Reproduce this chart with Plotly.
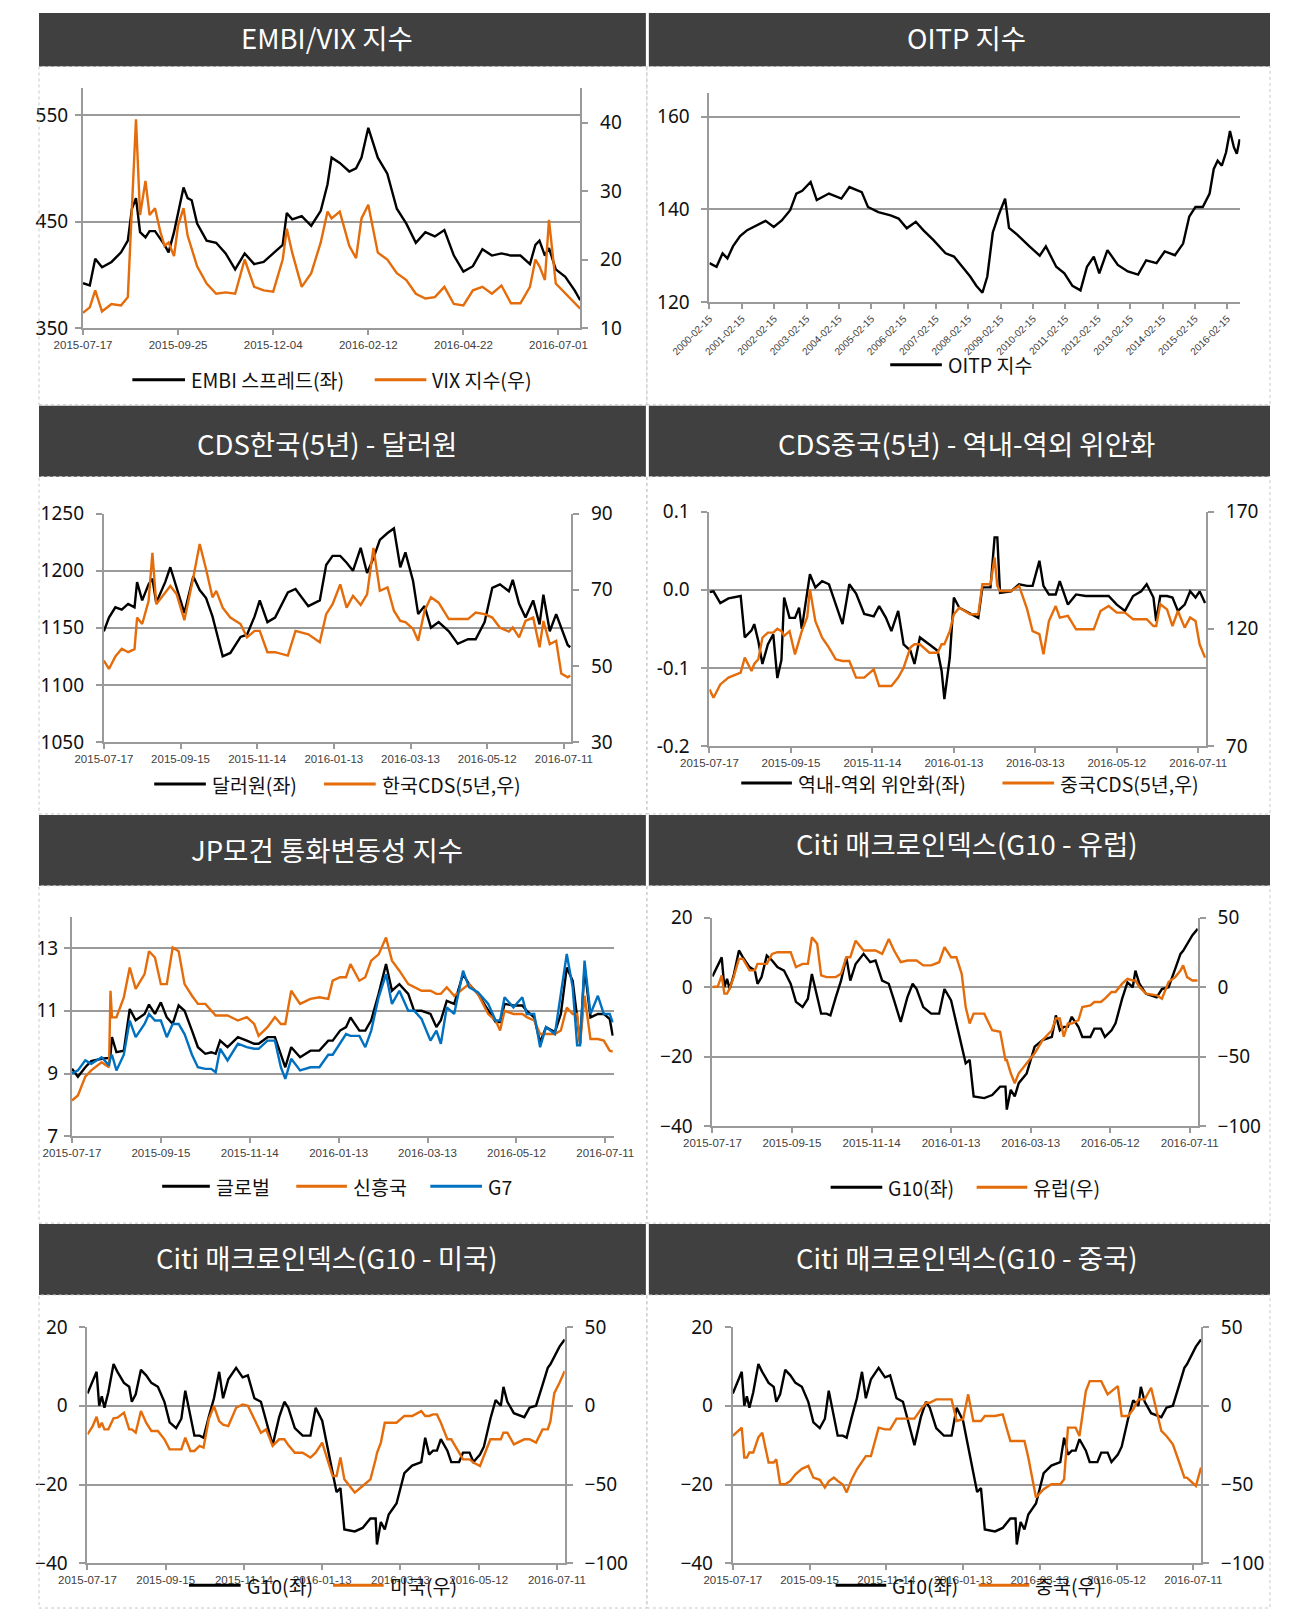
import pandas as pd
import plotly.graph_objects as go

W, H = 1291, 1621
BASE = pd.Timestamp('2015-07-17')

# ---------------- data ----------------
# EMBI / VIX (day offsets from 2015-07-17)
embi_days = [0, 5, 9, 14, 21, 28, 33, 36, 39, 42, 46, 49, 53, 57, 60, 63, 67, 70, 74, 77,
             80, 84, 91, 98, 105, 112, 119, 126, 133, 140, 147, 150, 154, 161, 168, 175, 180, 183, 189, 196,
             201, 205, 210, 217, 224, 231, 238, 245, 252, 259, 266, 273, 280, 287, 294, 301, 308, 315, 322, 329,
             333, 336, 340, 343, 348, 355, 362, 366]
embi = [392, 390, 415, 407, 412, 421, 432, 462, 472, 440, 435, 441, 441, 434, 428, 421, 440, 458, 482, 472,
        470, 448, 432, 430, 420, 405, 420, 410, 412, 420, 428, 458, 452, 455, 446, 460, 485, 510, 505, 497,
        500, 510, 538, 510, 495, 462, 448, 430, 440, 436, 442, 418, 403, 408, 424, 418, 420, 418, 418, 410,
        428, 432, 418, 425, 405, 398, 385, 376]
vix = [12.2, 13.0, 15.5, 12.4, 13.5, 13.3, 14.5, 28.0, 40.5, 26.5, 31.5, 26.5, 27.5, 24.0, 22.0, 22.5, 20.5, 25.0, 27.5, 23.5,
       21.5, 19.0, 16.5, 15.0, 15.2, 15.0, 20.0, 16.0, 15.5, 15.3, 20.0, 24.5, 21.0, 16.0, 18.0, 22.5, 27.0, 26.0, 27.0, 22.0,
       20.2, 26.0, 28.0, 21.0, 20.0, 18.0, 17.0, 15.0, 14.3, 14.5, 16.0, 13.5, 13.3, 15.5, 16.0, 15.0, 16.2, 13.6, 13.6, 16.0,
       20.0, 19.0, 17.0, 25.8, 16.5, 15.0, 13.5, 12.8]

# OITP index
oitp_dates = ['2000-02-15', '2000-05-05', '2000-07-12', '2000-09-05', '2000-11-06', '2001-01-26', '2001-04-16',
              '2001-08-07', '2001-11-10', '2002-02-10', '2002-05-11', '2002-08-14', '2002-10-23', '2002-12-28',
              '2003-04-02', '2003-06-10', '2003-10-26', '2004-03-14', '2004-06-13', '2004-10-30', '2005-01-08',
              '2005-05-05', '2005-09-20', '2005-12-20', '2006-03-22', '2006-07-02', '2006-09-24', '2007-01-15',
              '2007-06-03', '2007-09-06', '2007-12-06', '2008-03-07', '2008-05-15', '2008-07-23', '2008-09-16',
              '2008-11-17', '2009-01-26', '2009-04-05', '2009-05-19', '2009-08-22', '2010-01-05', '2010-05-01',
              '2010-07-09', '2010-11-03', '2011-02-03', '2011-05-05', '2011-08-04', '2011-10-16', '2012-01-01',
              '2012-03-03', '2012-06-03', '2012-09-28', '2013-01-19', '2013-05-15', '2013-08-14', '2013-12-09',
              '2014-03-11', '2014-07-05', '2014-10-05', '2014-12-13', '2015-02-21', '2015-05-15', '2015-07-31',
              '2015-09-16', '2015-10-30', '2015-12-16', '2016-02-02', '2016-03-17', '2016-04-30', '2016-06-02',
              '2016-07-05']
oitp = [128.4, 127.6, 130.5, 129.4, 132.0, 134.2, 135.5, 136.6, 137.5, 136.2, 137.6, 139.8, 143.4, 144.0,
        145.9, 142.0, 143.4, 142.3, 144.8, 143.7, 140.5, 139.4, 138.7, 138.0, 135.9, 137.3, 135.5, 133.4,
        130.5, 129.8, 127.6, 125.5, 123.5, 122.0, 125.5, 135.0, 139.0, 142.3, 136.0, 134.5, 132.0, 130.0,
        132.0, 127.6, 126.2, 123.5, 122.5, 127.6, 129.8, 126.2, 131.2, 128.0, 126.6, 125.9, 129.0, 128.4,
        130.9, 130.1, 132.6, 138.4, 140.5, 140.5, 143.4, 148.7, 150.5, 149.4, 152.3, 156.9, 153.4, 152.0,
        155.1]

# CDS Korea / USDKRW
krw_days = [0, 4, 9, 14, 19, 24, 26, 30, 35, 38, 41, 48, 52, 57, 63, 70, 75, 80, 85, 88,
            93, 99, 107, 112, 118, 122, 128, 134, 144, 150, 160, 169, 174, 179, 185, 190, 195, 201, 206, 211,
            216, 222, 227, 232, 236, 242, 246, 251, 256, 262, 270, 277, 285, 291, 298, 304, 310, 317, 320, 325,
            330, 336, 341, 344, 349, 354, 358, 363, 365]
usdkrw = [1147, 1159, 1168, 1166, 1171, 1168, 1190, 1174, 1188, 1193, 1172, 1190, 1203, 1185, 1163, 1195, 1183, 1176, 1160, 1147,
          1125, 1128, 1142, 1144, 1160, 1174, 1155, 1159, 1181, 1184, 1169, 1174, 1205, 1213, 1213, 1207, 1200, 1220, 1198, 1211,
          1227, 1233, 1237, 1203, 1216, 1191, 1162, 1169, 1150, 1155, 1147, 1136, 1140, 1140, 1155, 1185, 1188, 1182, 1192, 1171,
          1159, 1174, 1153, 1179, 1147, 1162, 1150, 1135, 1133]
kr_cds = [51.4, 49.2, 52.5, 54.5, 53.6, 54.4, 62.7, 61.0, 67.0, 79.7, 66.2, 69.3, 71.0, 68.8, 62.0, 73.2, 82.0, 75.4, 68.0, 69.7,
          65.3, 62.7, 61.0, 57.5, 59.2, 59.2, 53.6, 53.6, 52.7, 59.2, 58.3, 56.2, 63.6, 66.2, 71.4, 65.3, 68.4, 66.0, 68.8, 81.0,
          69.7, 70.6, 64.5, 61.8, 61.5, 59.7, 56.6, 64.5, 68.0, 66.6, 62.3, 62.3, 62.3, 64.0, 63.6, 62.7, 60.0, 59.0, 60.1, 57.5,
          61.8, 62.7, 54.9, 61.8, 55.7, 56.6, 48.0, 47.0, 47.5]

# CDS China / onshore-offshore CNY
cny_days = [0, 3, 8, 14, 23, 26, 31, 33, 36, 39, 43, 47, 50, 53, 55, 59, 63, 66, 68, 72,
            74, 78, 83, 88, 93, 98, 103, 108, 114, 121, 125, 130, 134, 139, 143, 148, 151, 155, 162, 168,
            171, 173, 177, 180, 184, 192, 198, 201, 207, 210, 212, 214, 222, 228, 234, 238, 243, 246, 250, 255,
            258, 264, 270, 277, 283, 288, 294, 300, 306, 312, 318, 322, 327, 329, 332, 337, 341, 345, 350, 354,
            358, 361, 365]
cny_spread = [-0.003, -0.002, -0.017, -0.011, -0.008, -0.061, -0.052, -0.044, -0.066, -0.095,
              -0.070, -0.057, -0.113, -0.090, -0.010, -0.036, -0.036, -0.023, -0.050, -0.005,
              0.020, 0.003, 0.011, 0.007, -0.019, -0.044, 0.007, -0.005, -0.031, -0.034,
              -0.021, -0.036, -0.053, -0.027, -0.070, -0.078, -0.095, -0.061, -0.070, -0.078,
              -0.104, -0.140, -0.087, -0.010, -0.023, -0.031, -0.036, 0.003, 0.003, 0.067,
              0.067, -0.004, -0.002, 0.007, 0.005, 0.005, 0.037, 0.005, -0.006, -0.006,
              0.011, -0.019, -0.006, -0.008, -0.008, -0.008, -0.008, -0.019, -0.027, -0.008,
              -0.002, 0.007, -0.010, -0.040, -0.008, -0.008, -0.010, -0.027, -0.019, -0.002,
              -0.010, -0.002, -0.017]
cn_cds = [94.2, 90.6, 96.3, 99.2, 101.3, 107.7, 102.0, 105.0, 107.0, 116.2,
          118.4, 118.4, 120.0, 119.0, 117.0, 119.0, 109.1, 115.0, 119.0, 125.0,
          136.9, 123.3, 116.2, 112.0, 107.0, 106.3, 106.3, 99.2, 99.2, 102.7,
          95.6, 95.6, 95.6, 99.2, 103.4, 112.0, 113.4, 113.4, 109.8, 109.8,
          113.4, 113.4, 119.0, 126.2, 129.0, 126.2, 126.2, 139.0, 139.0, 150.4,
          138.3, 136.1, 136.1, 138.3, 128.3, 119.0, 117.7, 109.1, 123.3, 129.7,
          124.8, 125.5, 119.8, 119.8, 119.8, 127.6, 129.7, 126.9, 126.9, 124.1,
          124.1, 124.1, 121.2, 121.2, 130.5, 128.3, 121.2, 127.6, 120.5, 124.8,
          123.3, 113.4, 107.7]

# JP Morgan FX volatility
jpm_days = [0, 4, 9, 13, 20, 25, 26, 27, 30, 35, 39, 43, 49, 52, 56, 60, 64, 68, 72, 76,
            81, 85, 90, 94, 97, 100, 105, 112, 118, 123, 126, 132, 137, 141, 144, 148, 154, 161, 167, 173,
            176, 181, 185, 188, 194, 198, 202, 207, 212, 216, 221, 227, 231, 236, 242, 246, 249, 253, 258, 264,
            268, 274, 281, 286, 289, 292, 298, 304, 307, 312, 316, 320, 326, 330, 334, 338, 341, 343, 346, 350,
            355, 359, 363, 365]
jpm_global = [9.15, 8.9, 9.2, 9.4, 9.47, 9.5, 9.6, 10.16, 9.68, 9.73, 11.06, 10.7, 10.9, 11.2, 10.9, 11.27, 10.79, 10.58, 11.17, 11.0,
              10.37, 9.84, 9.63, 9.68, 9.63, 10.05, 9.84, 10.16, 10.05, 9.95, 9.95, 10.16, 10.16, 9.63, 9.2, 9.84, 9.52, 9.73, 9.73, 10.05,
              10.05, 10.37, 10.48, 10.79, 10.37, 10.37, 10.7, 11.54, 12.49, 11.64, 11.85, 11.54, 11.0, 11.0, 10.9, 10.48, 10.7, 11.32, 11.22, 12.17,
              11.85, 11.54, 11.0, 10.64, 10.64, 11.22, 11.17, 11.17, 11.0, 10.79, 10.0, 10.48, 10.32, 10.9, 12.38, 11.96, 10.79, 9.95, 12.38, 10.79,
              10.9, 10.9, 10.74, 10.21]
jpm_em = [8.14, 8.3, 8.9, 9.1, 9.36, 9.2, 11.64, 10.79, 10.79, 11.43, 12.38, 11.7, 12.17, 12.9, 12.7, 11.85, 11.85, 13.02, 12.9, 11.85,
          11.48, 11.22, 11.22, 11.0, 10.85, 10.85, 10.85, 10.69, 10.8, 10.58, 10.2, 10.48, 10.8, 10.58, 10.58, 11.64, 11.22, 11.38, 11.43, 11.38,
          11.96, 12.07, 12.07, 12.49, 11.96, 12.07, 12.6, 12.8, 13.34, 12.6, 12.28, 11.85, 11.75, 11.64, 11.64, 11.54, 11.54, 11.75, 11.48, 11.7,
          11.85, 11.54, 10.9, 10.69, 10.37, 11.0, 10.9, 10.9, 10.8, 10.69, 10.26, 10.26, 10.26, 10.37, 11.1, 10.9, 10.9, 9.95, 11.48, 10.1,
          10.1, 10.05, 9.73, 9.7]
jpm_g7 = [9.0, 9.1, 9.42, 9.31, 9.52, 9.26, 9.5, 9.6, 9.1, 9.6, 10.69, 10.16, 10.58, 10.9, 10.69, 10.69, 10.16, 10.58, 10.58, 10.26,
          9.6, 9.2, 9.15, 9.15, 9.04, 9.79, 9.42, 9.95, 9.84, 9.79, 9.79, 10.05, 10.05, 9.2, 8.83, 9.47, 9.1, 9.2, 9.2, 9.6,
          9.6, 9.95, 10.26, 10.2, 10.2, 9.84, 10.37, 11.43, 12.17, 11.22, 11.64, 11.0, 11.0, 10.74, 10.05, 10.37, 9.95, 11.11, 10.9, 12.28,
          11.75, 11.59, 11.22, 10.69, 10.69, 11.43, 11.11, 11.43, 10.9, 10.9, 9.84, 10.48, 10.26, 11.54, 12.81, 11.75, 9.9, 9.9, 12.6, 10.9,
          11.48, 10.9, 10.9, 10.63]

# Citi macro surprise indices
citi_days = [0, 4, 7, 9, 11, 13, 16, 20, 23, 28, 32, 34, 37, 41, 45, 49, 54, 59, 63, 68,
             72, 75, 79, 82, 86, 89, 93, 97, 101, 104, 108, 114, 119, 123, 128, 133, 137, 142, 147, 151,
             154, 159, 165, 171, 175, 180, 184, 188, 191, 194, 197, 205, 211, 217, 221, 222, 225, 228, 231, 237,
             243, 249, 256, 259, 262, 265, 268, 271, 276, 279, 285, 288, 293, 296, 301, 304, 309, 313, 317, 319,
             322, 327, 335, 339, 344, 349, 353, 355, 358, 362, 366]
citi_g10 = [3.1, 6.5, 8.6, 0.0, 2.4, -0.5, 3.4, 10.6, 8.6, 5.8, 4.8, 1.0, 2.9, 9.1, 7.7, 5.8, 4.8, 1.0, -4.2, -5.7,
            -3.3, 3.8, -2.9, -7.6, -7.6, -8.1, -2.9, 1.9, 8.6, 1.9, 6.7, 9.6, 7.2, 7.7, 1.9, 1.0, -3.8, -10.0, -2.9, 1.0,
            -0.5, -5.7, -7.6, -7.6, -0.5, -3.8, -10.4, -17.1, -21.9, -20.9, -31.4, -31.9, -31.0, -28.6, -28.6, -35.2, -29.5, -31.4, -27.6, -24.8,
            -17.1, -15.2, -14.3, -8.1, -12.4, -11.4, -11.4, -8.5, -11.4, -14.3, -14.3, -11.9, -11.9, -14.3, -12.4, -10.4, -3.3, 1.4, 0.0, 4.8,
            1.0, -1.9, -2.9, -0.5, 0.0, 5.3, 9.6, 10.5, 12.5, 15.0, 16.8]
citi_eu = [0.2, 0.5, 8.5, -4.6, -4.6, -1.0, 7.3, 20.4, 20.4, 12.1, 12.1, 16.8, 16.8, 16.8, 24.0, 25.2, 25.2, 25.2, 14.5, 16.8,
           16.8, 35.9, 31.2, 8.5, 7.3, 7.3, 7.3, 9.7, 21.6, 21.6, 33.5, 26.4, 26.4, 26.4, 24.0, 34.7, 26.4, 18.0, 19.2, 19.2,
           19.2, 15.7, 15.7, 18.0, 28.8, 21.6, 21.6, 9.7, -14.2, -26.1, -19.0, -19.0, -30.9, -32.0, -52.3, -52.3, -61.9, -69.0, -61.9, -54.7,
           -47.5, -38.0, -30.9, -22.5, -22.5, -35.6, -26.1, -26.1, -23.7, -14.2, -13.0, -10.6, -10.6, -8.2, -3.4, -3.4, 2.6, 6.1, 4.9, 4.9,
           0.2, -4.6, -5.8, -8.2, 3.7, 7.3, 12.0, 15.7, 7.3, 4.9, 4.9]
citi_us = [-18.2, -13.0, -7.0, -13.9, -10.8, -15.0, -15.0, -8.0, -7.6, -4.4, -15.0, -15.0, -17.1, -3.4, -10.8, -16.0, -16.0, -21.3, -27.7, -27.7,
           -27.7, -20.3, -28.7, -28.7, -25.5, -26.6, -8.7, -0.2, -9.7, -12.0, -12.9, -1.3, 0.8, 0.0, -8.7, -17.1, -15.0, -25.5, -21.3, -21.3,
           -25.0, -29.8, -29.8, -32.9, -29.8, -23.4, -34.0, -44.6, -44.6, -32.9, -46.7, -55.1, -50.9, -46.7, -34.0, -30.0, -23.4, -10.8, -10.8, -10.8,
           -6.5, -6.5, -3.4, -6.5, -6.5, -5.5, -5.5, -10.8, -21.3, -21.3, -29.8, -34.0, -34.0, -36.0, -38.2, -31.9, -21.3, -21.3, -21.3, -17.1,
           -17.1, -24.5, -21.3, -21.3, -23.4, -15.0, -15.0, -10.0, 8.0, 14.6, 22.0]
citi_cn = [-19.2, -16.0, -13.9, -32.9, -32.9, -29.7, -29.7, -20.0, -17.1, -36.0, -36.0, -34.0, -49.8, -49.8, -47.7, -43.5, -40.0, -38.2, -45.6, -47.0,
           -51.9, -48.0, -45.6, -47.7, -50.0, -55.0, -46.6, -40.3, -36.0, -32.0, -31.9, -13.9, -15.0, -15.0, -8.2, -8.2, -8.2, -8.2, -2.3, 1.9,
           1.9, 4.0, 4.0, 4.0, -9.7, -8.6, 7.2, -9.7, -9.7, -9.7, -6.5, -6.5, -5.5, -22.4, -22.4, -22.4, -22.4, -22.4, -32.9, -58.2,
           -53.0, -49.8, -49.8, -46.6, -13.9, -13.9, -13.9, -19.2, 9.3, 15.6, 15.6, 15.6, 7.2, 9.3, 12.4, -6.5, -6.5, -2.3, 4.0, 4.0,
           4.0, 11.4, -16.0, -19.2, -24.5, -36.0, -45.6, -45.6, -47.7, -50.9, -39.2]

ticks_70 = ['2015-07-17', '2015-09-25', '2015-12-04', '2016-02-12', '2016-04-22', '2016-07-01']
ticks_60 = ['2015-07-17', '2015-09-15', '2015-11-14', '2016-01-13', '2016-03-13', '2016-05-12', '2016-07-11']
ticks_oitp = ['%d-02-15' % y for y in range(2000, 2017)]

# ---------------- styling ----------------
BLACK = '#000000'
ORANGE = '#E46C0A'
BLUE = '#0070C0'
GRID = '#9a9a9a'
HEADER = '#404040'
KFONT = 'Noto Sans CJK KR'

# the photographed figure lands inset and slightly squeezed; positions below are
# picture pixels, mapped back into figure paper coordinates
AX, SX, AY, SY = 34.0, 0.960, 12.4, 0.986


def px(x):
    return min(max((x - AX) / SX, 0), W) / W


def py(y):
    return 1 - min(max((y - AY) / SY, 0), H) / H


def to_dates(days):
    return [BASE + pd.Timedelta(days=d) for d in days]


fig = go.Figure()


def setup_panel(i, box, xrange, xticks, left, right=None, xangle=0, xsize=11.5, standoff=8):
    x0, y0, x1, y1 = box
    xn = '' if i == 1 else str(i)
    ln = '' if i == 1 else str(2 * i - 1)
    rn = str(2 * i)
    fig.update_layout(**{
        'xaxis' + xn: dict(domain=[px(x0), px(x1)], anchor='y' + ln, type='date', range=xrange,
                           tickvals=xticks, tickformat='%Y-%m-%d', ticks='outside', ticklen=5, tickwidth=2,
                           tickcolor=GRID, showline=True, linecolor=GRID, linewidth=2, showgrid=False,
                           zeroline=False, tickangle=xangle, fixedrange=True,
                           tickfont=dict(family='Liberation Sans', size=xsize, color='#404040')),
        'yaxis' + ln: dict(domain=[py(y1), py(y0)], anchor='x' + xn, range=left['range'],
                           tickvals=left['ticks'], ticktext=left.get('text'), ticks='outside', ticklen=6,
                           tickwidth=2, tickcolor=GRID, showline=True, linecolor=GRID, linewidth=2,
                           showgrid=True, gridcolor=GRID, gridwidth=2, zeroline=False, fixedrange=True,
                           ticklabelstandoff=standoff, tickfont=dict(family='Noto Sans', size=19, color='#111')),
    })
    if right:
        fig.update_layout(**{
            'yaxis' + rn: dict(overlaying='y' + ln, side='right', anchor='x' + xn, range=right['range'],
                               tickvals=right['ticks'], ticks='outside', ticklen=6, tickwidth=2, tickcolor=GRID,
                               showline=True, linecolor=GRID, linewidth=2, showgrid=False, zeroline=False,
                               fixedrange=True, ticklabelstandoff=8,
                               tickfont=dict(family='Noto Sans', size=19, color='#111')),
        })
    return xn, ln, rn


def add_line(x, y, color, xn, yn):
    fig.add_trace(go.Scatter(x=x, y=y, mode='lines', line=dict(color=color, width=2.4),
                             xaxis='x' + xn, yaxis='y' + yn, showlegend=False))


END = '2016-07-17'
END2 = '2016-07-16 18:00'

# 1. EMBI / VIX
xn, ln, rn = setup_panel(1, (78.3, 88, 578.9, 328), ['2015-07-17', END], ticks_70,
                         dict(range=[350, 575], ticks=[350, 450, 550]),
                         dict(range=[10, 45], ticks=[10, 20, 30, 40]), standoff=3)
add_line(to_dates(embi_days), embi, BLACK, xn, ln)
add_line(to_dates(embi_days), vix, ORANGE, xn, rn)

# 2. OITP
xn, ln, rn = setup_panel(2, (709, 93, 1243.5, 302), ['2000-02-15', '2016-07-12'], ticks_oitp,
                         dict(range=[120, 165], ticks=[120, 140, 160]), xangle=-45, xsize=10)
add_line(oitp_dates, oitp, BLACK, xn, ln)

# 3. CDS Korea / USDKRW
xn, ln, rn = setup_panel(3, (99.3, 514, 569.8, 743), ['2015-07-17', END2], ticks_60,
                         dict(range=[1050, 1250], ticks=[1050, 1100, 1150, 1200, 1250]),
                         dict(range=[30, 90], ticks=[30, 50, 70, 90]))
add_line(to_dates(krw_days), usdkrw, BLACK, xn, ln)
add_line(to_dates(krw_days), kr_cds, ORANGE, xn, rn)

# 4. CDS China / CNY spread
xn, ln, rn = setup_panel(4, (709, 512, 1209, 747), ['2015-07-17', END2], ticks_60,
                         dict(range=[-0.2, 0.1], ticks=[-0.2, -0.1, 0, 0.1], text=['-0.2', '-0.1', '0.0', '0.1']),
                         dict(range=[70, 170], ticks=[70, 120, 170]))
add_line(to_dates(cny_days), cny_spread, BLACK, xn, ln)
add_line(to_dates(cny_days), cn_cds, ORANGE, xn, rn)

# 5. JP Morgan FX vol
xn, ln, rn = setup_panel(5, (67.2, 918, 612.7, 1138), ['2015-07-17', END2], ticks_60,
                         dict(range=[7, 14], ticks=[7, 9, 11, 13]), standoff=2)
add_line(to_dates(jpm_days), jpm_global, BLACK, xn, ln)
add_line(to_dates(jpm_days), jpm_em, ORANGE, xn, ln)
add_line(to_dates(jpm_days), jpm_g7, BLUE, xn, ln)

# 6-8. Citi macro
citi_left = dict(range=[-40, 20], ticks=[-40, -20, 0, 20])
citi_right = dict(range=[-100, 50], ticks=[-100, -50, 0, 50])
for i, box, other in [(6, (712, 919, 1200.6, 1128), citi_eu),
                      (7, (82.8, 1329, 563.3, 1566), citi_us),
                      (8, (732.5, 1329, 1203.9, 1566), citi_cn)]:
    xn, ln, rn = setup_panel(i, box, ['2015-07-17', END], ticks_60, citi_left, citi_right)
    add_line(to_dates(citi_days), citi_g10, BLACK, xn, ln)
    add_line(to_dates(citi_days), other, ORANGE, xn, rn)

# ---------------- headers, borders, legends ----------------
shapes, annotations = [], []
rows = [(1, 66), (406, 477), (816, 887), (1226, 1297)]
next_top = [406, 816, 1226, 1620]
for (t, b), nt in zip(rows, next_top):
    for x0, x1 in [(3, 645), (648, 1289)]:
        shapes.append(dict(type='rect', xref='paper', yref='paper', x0=px(x0), x1=px(x1), y0=py(b), y1=py(t),
                           fillcolor=HEADER, line=dict(width=0)))
    for x0, x1 in [(3, 646), (646, 1289)]:
        shapes.append(dict(type='rect', xref='paper', yref='paper', x0=px(x0), x1=px(x1), y0=py(nt - 1), y1=py(b),
                           line=dict(color='#c8c8c8', width=1, dash='dot')))

titles = [(324, 36, 'EMBI/VIX 지수'), (968, 36, 'OITP 지수'),
          (324, 443, 'CDS한국(5년) - 달러원'), (968, 443, 'CDS중국(5년) - 역내-역외 위안화'),
          (324, 850, 'JP모건 통화변동성 지수'), (968, 844, 'Citi 매크로인덱스(G10 - 유럽)'),
          (324, 1259, 'Citi 매크로인덱스(G10 - 미국)'), (968, 1259, 'Citi 매크로인덱스(G10 - 중국)')]
for x, y, t in titles:
    annotations.append(dict(x=px(x), y=py(y), xref='paper', yref='paper', text=t, showarrow=False,
                            xanchor='center', yanchor='middle', font=dict(family=KFONT, size=27.5, color='white')))

legends = [(380, [(128, 181, 'EMBI 스프레드(좌)', BLACK), (372, 424, 'VIX 지수(우)', ORANGE)]),
           (365, [(891, 943, 'OITP 지수', BLACK)]),
           (785, [(150, 202, '달러원(좌)', BLACK), (321, 373, '한국CDS(5년,우)', ORANGE)]),
           (784, [(741, 792, '역내-역외 위안화(좌)', BLACK), (1004, 1056, '중국CDS(5년,우)', ORANGE)]),
           (1188, [(158, 206, '글로벌', BLACK), (293, 344, '신흥국', ORANGE), (428, 480, 'G7', BLUE)]),
           (1189, [(831, 883, 'G10(좌)', BLACK), (978, 1029, '유럽(우)', ORANGE)]),
           (1588, [(185, 237, 'G10(좌)', BLACK), (330, 381, '미국(우)', ORANGE)]),
           (1588, [(836, 887, 'G10(좌)', BLACK), (980, 1031, '중국(우)', ORANGE)])]
for y, items in legends:
    for x0, x1, text, color in items:
        shapes.append(dict(type='line', xref='paper', yref='paper', x0=px(x0), x1=px(x1), y0=py(y), y1=py(y),
                           line=dict(color=color, width=3)))
        annotations.append(dict(x=px(x1 + 4), y=py(y), xref='paper', yref='paper', text=text, showarrow=False,
                                xanchor='left', yanchor='middle', font=dict(family=KFONT, size=19.5, color='#111')))

fig.update_layout(width=W, height=H, margin=dict(l=0, r=0, t=0, b=0), paper_bgcolor='white',
                  plot_bgcolor='white', shapes=shapes, annotations=annotations,
                  font=dict(family=KFONT), hovermode=False, dragmode=False)

fig.write_html("out.html", config={'displayModeBar': False, 'staticPlot': True},
               post_script="document.body.style.margin='0px';")
